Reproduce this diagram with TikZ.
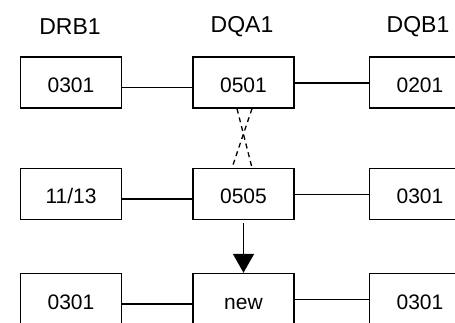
\documentclass[tikz,border=0pt]{standalone}
\usepackage{fontspec}
\setmainfont{Liberation Sans}
\usetikzlibrary{arrows.meta}
\tikzset{
  box/.style={draw, line width=1.4pt, minimum width=101pt, minimum height=51pt, inner sep=0pt, text height=20pt, text depth=0pt, font=\fontsize{21}{24}\selectfont},
  hdr/.style={inner sep=0pt, font=\fontsize{23}{26}\selectfont},
  link/.style={line width=1.3pt},
  cross/.style={line width=1.3pt, dash pattern=on 5pt off 4pt},
  big/.style={line width=1.6pt, -{Triangle[width=21pt,length=19pt]}}
}
\begin{document}
\begin{tikzpicture}[x=1pt,y=-1pt]
\clip (0,0) rectangle (455,323);
\node[hdr] (h1) at (70,27) {DRB1};
\node[hdr] (h2) at (242,27) {DQA1};
\node[hdr] (h3) at (418,27) {DQB1};
% row 1
\node[box] (a1) at (71,82.5) {0301};
\node[box] (b1) at (243.5,82.5) {0501};
\node[box] (c1) at (420,82.5) {0201};
% row 2
\node[box] (a2) at (71,194) {11/13};
\node[box] (b2) at (243.5,194) {0505};
\node[box] (c2) at (420,194) {0301};
% row 3
\node[box] (a3) at (71,299) {0301};
\node[box] (b3) at (243.5,299) {new};
\node[box] (c3) at (420,299) {0301};
% connectors
\foreach \r in {1,2,3}{
  \draw[link] ([yshift=-5pt]a\r.east) -- ([yshift=-5pt,xshift=2pt]b\r.west);
  \draw[link] ([yshift=-0.5pt]b\r.east) -- ([yshift=-0.5pt]c\r.west);
}
\draw[cross] ([xshift=-6.5pt]b1.south) -- ([xshift=8.5pt]b2.north);
\draw[cross] ([xshift=8.5pt]b1.south) -- ([xshift=-11.5pt]b2.north);
\draw[big] ([yshift=-3pt]b2.south) -- (b3.north);
\end{tikzpicture}
\end{document}
